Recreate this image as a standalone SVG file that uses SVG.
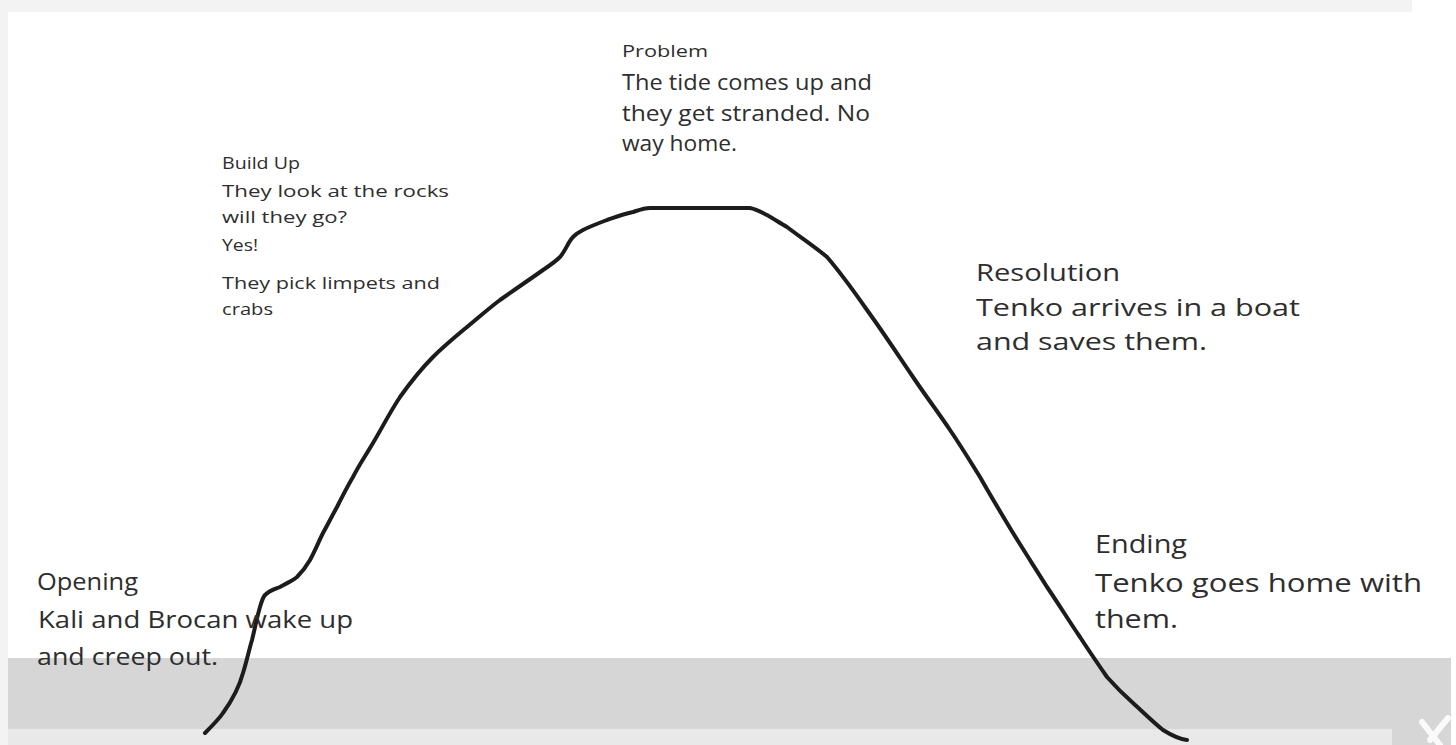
<svg xmlns="http://www.w3.org/2000/svg" width="1456" height="745" viewBox="0 0 1456 745">
  <style>
    .t { font-family: "Open Sans", "Liberation Sans", sans-serif; fill: #2e2e2e; }
    .s17 { font-size: 17px; }
    .s16 { font-size: 16px; }
    .s21 { font-size: 21px; }
    .s24 { font-size: 24px; }
    .s26 { font-size: 26px; }
  </style>
  <rect x="0" y="0" width="1456" height="745" fill="#ffffff"/>
  <rect x="0" y="0" width="1412" height="12" fill="#f3f3f3"/>
  <rect x="0" y="0" width="8" height="745" fill="#f3f3f3"/>
  <rect x="8" y="658" width="1443" height="71" fill="#d6d6d6"/>
  <rect x="8" y="729" width="1384" height="16" fill="#e9e9e9"/>
  <rect x="1392" y="729" width="59" height="16" fill="#d6d6d6"/>
  <g id="close-mark" stroke="#ffffff" stroke-width="6" stroke-linecap="round" opacity="0.9">
    <line x1="1422" y1="722" x2="1440" y2="745"/>
    <line x1="1448" y1="718" x2="1430" y2="740"/>
  </g>

  <g id="connectors">
    <path d="M205,733 C212,726 219,719 223,713 C233,699 239,688 243,673 C247,660 249,650 252,640 C255,628 257,617 260,607 C262,600 263,597 265,595 C270,590 275,589 280,587 C287,583 292,581 297,577 C303,571 306,567 310,560 C315,551 318,543 323,533 C328,524 332,516 337,507 C342,497 347,487 353,477 C359,465 366,455 373,443 C382,428 390,412 400,397 C410,383 421,369 433,357 C444,346 455,337 467,327 C478,318 488,309 500,300 C514,290 529,280 543,270 C549,266 555,262 560,257 C566,250 568,242 573,237 C576,234 579,232 583,230 C591,226 599,223 607,220 C616,217 624,214 633,212 C639,210 644,208 650,208 L750,208 C756,209 761,212 767,215 C774,219 780,223 787,227 C800,237 814,246 827,257 C840,272 853,290 867,310 C883,332 898,355 913,377 C925,395 938,412 950,430 C961,446 970,461 980,477 C989,493 998,508 1007,523 C1020,545 1034,566 1047,587 C1058,603 1069,621 1080,637 C1089,651 1098,664 1107,677 C1115,686 1124,695 1133,703 C1143,712 1153,722 1163,730 C1171,735 1179,739 1187,740" fill="none" stroke="#1c1c1c" stroke-width="4" stroke-linecap="round" stroke-linejoin="round"/>
  </g>

  <g id="opening">
    <text class="t s24" x="37" y="590" textLength="101" lengthAdjust="spacingAndGlyphs">Opening</text>
    <text class="t s24" x="38" y="628" textLength="315" lengthAdjust="spacingAndGlyphs">Kali and Brocan wake up</text>
    <text class="t s24" x="37" y="665" textLength="181" lengthAdjust="spacingAndGlyphs">and creep out.</text>
  </g>

  <g id="build-up">
    <text class="t s17" x="222" y="169" textLength="78" lengthAdjust="spacingAndGlyphs">Build Up</text>
    <text class="t s17" x="222" y="197" textLength="227" lengthAdjust="spacingAndGlyphs">They look at the rocks</text>
    <text class="t s17" x="222" y="223" textLength="125" lengthAdjust="spacingAndGlyphs">will they go?</text>
    <text class="t s17" x="222" y="251" textLength="36" lengthAdjust="spacingAndGlyphs">Yes!</text>
    <text class="t s17" x="222" y="289" textLength="218" lengthAdjust="spacingAndGlyphs">They pick limpets and</text>
    <text class="t s17" x="222" y="315" textLength="51" lengthAdjust="spacingAndGlyphs">crabs</text>
  </g>

  <g id="problem">
    <text class="t s16" x="622" y="57" textLength="86" lengthAdjust="spacingAndGlyphs">Problem</text>
    <text class="t s21" x="622" y="90" textLength="250" lengthAdjust="spacingAndGlyphs">The tide comes up and</text>
    <text class="t s21" x="622" y="121" textLength="248" lengthAdjust="spacingAndGlyphs">they get stranded. No</text>
    <text class="t s21" x="622" y="151" textLength="115" lengthAdjust="spacingAndGlyphs">way home.</text>
  </g>

  <g id="resolution">
    <text class="t s24" x="976" y="281" textLength="144" lengthAdjust="spacingAndGlyphs">Resolution</text>
    <text class="t s24" x="976" y="316" textLength="324" lengthAdjust="spacingAndGlyphs">Tenko arrives in a boat</text>
    <text class="t s24" x="976" y="350" textLength="231" lengthAdjust="spacingAndGlyphs">and saves them.</text>
  </g>

  <g id="ending">
    <text class="t s26" x="1095" y="553" textLength="92" lengthAdjust="spacingAndGlyphs">Ending</text>
    <text class="t s26" x="1095" y="592" textLength="327" lengthAdjust="spacingAndGlyphs">Tenko goes home with</text>
    <text class="t s26" x="1095" y="628" textLength="83" lengthAdjust="spacingAndGlyphs">them.</text>
  </g>
</svg>
